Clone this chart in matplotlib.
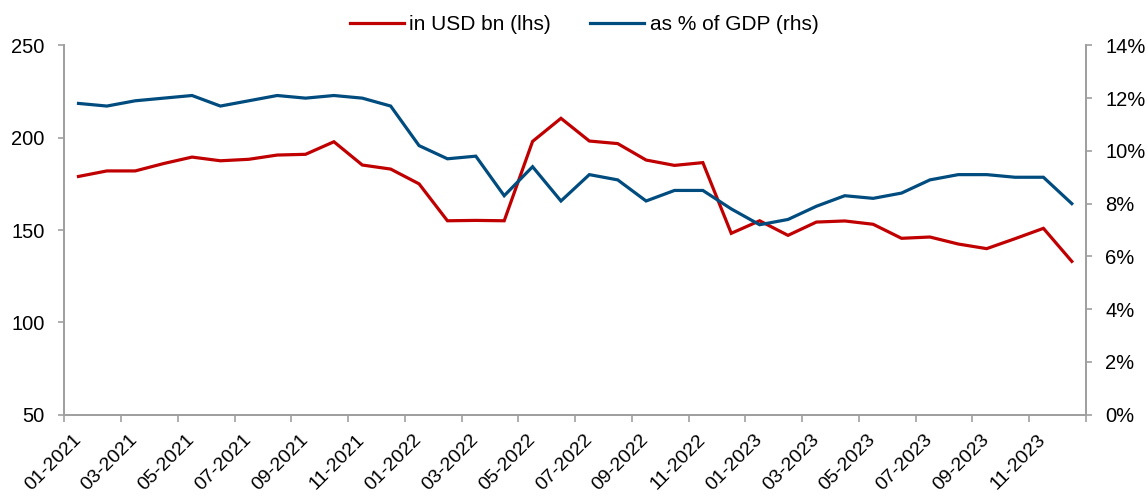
import matplotlib
matplotlib.use("Agg")
import matplotlib.pyplot as plt
from matplotlib.ticker import FixedLocator, FuncFormatter
import numpy as np

plt.rcParams['font.family'] = ['Liberation Sans', 'DejaVu Sans']

months = [f"{m:02d}-{y}" for y in (2021, 2022, 2023) for m in range(1, 13)]

usd_bn = [179, 182, 182, 186, 189.5, 187.5, 188.3, 190.6, 191, 197.8, 185.2, 183,
          175, 155, 155.2, 155, 198, 210.5, 198.2, 196.8, 187.9, 185, 186.5, 148.2,
          155, 147.1, 154.3, 154.9, 153.1, 145.5, 146.2, 142.4, 139.9, 145.3, 150.9, 133.0]

pct_gdp = [11.8, 11.7, 11.9, 12.0, 12.1, 11.7, 11.9, 12.1, 12.0, 12.1, 12.0, 11.7,
           10.2, 9.7, 9.8, 8.3, 9.4, 8.1, 9.1, 8.9, 8.1, 8.5, 8.5, 7.8,
           7.2, 7.4, 7.9, 8.3, 8.2, 8.4, 8.9, 9.1, 9.1, 9.0, 9.0, 8.0]

left_ticks = [50, 100, 150, 200, 250]
right_ticks = [0, 2, 4, 6, 8, 10, 12, 14]

RED = '#C00000'
BLUE = '#004C7F'
GRAY = '#A0A0A0'
FS = 14.5

fig = plt.figure(figsize=(11.48, 4.96), dpi=100)
ax = fig.add_axes([64.3/1148, 1-414.6/496, (1086-64.3)/1148, (414.6-45.4)/496])
ax2 = ax.twinx()

x = np.arange(len(months))
l1, = ax.plot(x, usd_bn, color=RED, lw=2.3, label='in USD bn (lhs)', solid_joinstyle='miter')
l2, = ax2.plot(x, pct_gdp, color=BLUE, lw=2.3, label='as % of GDP (rhs)', solid_joinstyle='miter')

ax.set_xlim(-0.5, len(months) - 0.5)
ax.set_ylim(50, 250)
ax.set_yticks(left_ticks)
ax2.set_ylim(0, 14)
ax2.set_yticks(right_ticks)
ax2.yaxis.set_major_formatter(FuncFormatter(lambda v, p: f"{v:.0f}%"))

# x ticks: marks at category boundaries every 2, labels at category centers
ax.xaxis.set_major_locator(FixedLocator(np.arange(-0.5, len(months), 2)))
ax.xaxis.set_major_formatter(FuncFormatter(lambda v, p: ''))
ax.xaxis.set_minor_locator(FixedLocator(x[::2]))
ax.set_xticklabels([months[i] for i in x[::2]], minor=True, rotation=45,
                   ha='right', va='center', rotation_mode='anchor', fontsize=14)
ax.tick_params(axis='x', which='minor', length=0, pad=16)
ax.tick_params(axis='x', which='major', length=5, width=1.2, color=GRAY)

ax.tick_params(axis='y', length=4, width=1.2, color=GRAY, labelsize=FS, pad=10)
ax2.tick_params(axis='y', length=4, width=1.2, color=GRAY, labelsize=FS, pad=10)

for a in (ax, ax2):
    a.spines['top'].set_visible(False)
    for s in ('left', 'right', 'bottom'):
        a.spines[s].set_color(GRAY)
        a.spines[s].set_linewidth(1.3)
    a.set_facecolor('none')

fig.legend(handles=[l1, l2], loc='center', bbox_to_anchor=(584/1148, 1-25/496),
           ncol=2, frameon=False, fontsize=15, handlelength=2.6, handletextpad=0.25,
           columnspacing=1.9)

fig.savefig('out.png', dpi=100)
